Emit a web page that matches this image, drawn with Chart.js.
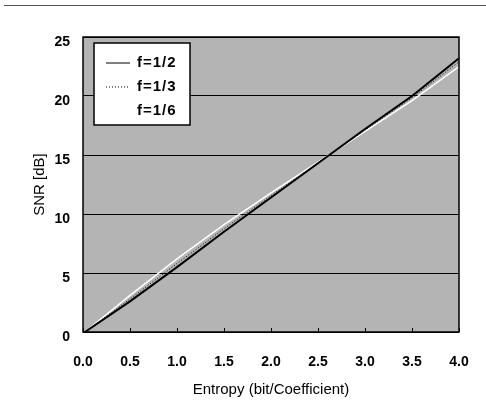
<!DOCTYPE html>
<html lang="en">
<head>
    <meta charset="UTF-8">
    <title>SNR vs Entropy</title>
    <script src="https://cdn.jsdelivr.net/npm/chart.js"></script>
    <style>
        body { margin: 0; background: #fff; }
        #wrap { position: relative; width: 486px; height: 403px; }
        #topline { position: absolute; left: 4px; right: 0; top: 5px; border-top: 1px solid #555; }
    </style>
</head>
<body>
    <div id="wrap">
        <div id="topline"></div>
        <canvas id="snrChart" width="486" height="403"></canvas>
    </div>
    <script>
        // entropy values (bit/coefficient) and SNR in dB for each filter
        const entropy = [0.02, 0.5, 1.0, 1.5, 2.0, 2.5, 3.0, 3.5, 4.0];
        const snrHalf = [0, 2.6, 5.5, 8.5, 11.4, 14.3, 17.2, 20.0, 23.2];
        const snrThird = [0, 2.8, 5.8, 8.75, 11.55, 14.35, 17.1, 19.85, 22.9];
        const snrSixth = [0, 3.1, 6.2, 9.1, 11.8, 14.4, 17.0, 19.6, 22.5];
        const seriesLabels = ['f=1/2', 'f=1/3', 'f=1/6'];
        const xTicks = [0, 0.5, 1, 1.5, 2, 2.5, 3, 3.5, 4];
        const yTicks = [0, 5, 10, 15, 20, 25];

        function pts(ys) {
            return entropy.map((x, i) => ({ x: x, y: ys[i] }));
        }

        const plotFrame = {
            id: 'plotFrame',
            beforeDraw(chart) {
                // gray plot background
                const { ctx, chartArea: a } = chart;
                ctx.save();
                ctx.fillStyle = '#b4b4b4';
                ctx.fillRect(a.left, a.top, a.right - a.left, a.bottom - a.top);
                ctx.restore();
            },
            afterDatasetsDraw(chart) {
                const { ctx, chartArea: a } = chart;
                const xs = chart.scales.x;
                ctx.save();
                ctx.strokeStyle = '#000';
                ctx.lineWidth = 1.5;
                ctx.strokeRect(a.left, a.top, a.right - a.left, a.bottom - a.top);
                ctx.lineWidth = 1;
                xTicks.forEach(v => {
                    const px = Math.round(xs.getPixelForValue(v)) + 0.5;
                    ctx.beginPath();
                    ctx.moveTo(px, a.bottom);
                    ctx.lineTo(px, a.bottom - 4);
                    ctx.stroke();
                });
                ctx.restore();
            },
            afterDraw(chart) {
                // legend box inside the plot, top left
                const { ctx } = chart;
                const bx = 94, by = 43, bw = 96, bh = 82;
                ctx.save();
                ctx.fillStyle = '#fff';
                ctx.fillRect(bx, by, bw, bh);
                ctx.strokeStyle = '#000';
                ctx.lineWidth = 1.5;
                ctx.strokeRect(bx, by, bw, bh);
                ctx.font = 'bold 15px "Liberation Sans", Arial, sans-serif';
                ctx.letterSpacing = '1px';
                ctx.textBaseline = 'middle';
                chart.data.datasets.forEach((ds, i) => {
                    const y = 63 + i * 24;
                    ctx.strokeStyle = ds.borderColor;
                    ctx.lineWidth = 1;
                    ctx.setLineDash(ds.borderDash || []);
                    ctx.beginPath();
                    ctx.moveTo(106, y);
                    ctx.lineTo(130, y);
                    ctx.stroke();
                    ctx.setLineDash([]);
                    ctx.fillStyle = '#000';
                    ctx.fillText(ds.label, 137, y);
                });
                ctx.restore();
            }
        };

        new Chart(document.getElementById('snrChart'), {
            type: 'line',
            data: {
                datasets: [
                    { label: seriesLabels[0], data: pts(snrHalf), borderColor: '#000', borderWidth: 2 },
                    { label: seriesLabels[1], data: pts(snrThird), borderColor: '#000', borderWidth: 1, borderDash: [1, 2] },
                    { label: seriesLabels[2], data: pts(snrSixth), borderColor: '#fff', borderWidth: 1.5 }
                ]
            },
            options: {
                responsive: false,
                animation: false,
                layout: { padding: { left: 0, top: 37, right: 27, bottom: 0 } },
                elements: { point: { radius: 0 }, line: { tension: 0 } },
                plugins: { legend: { display: false }, tooltip: { enabled: false } },
                scales: {
                    x: {
                        type: 'linear',
                        min: 0, max: 4,
                        afterBuildTicks: s => { s.ticks = xTicks.map(v => ({ value: v })); },
                        afterFit: s => { s.height = 71; },
                        grid: { display: false },
                        border: { display: false },
                        ticks: {
                            color: '#000',
                            padding: 14,
                            maxRotation: 0,
                            font: { family: '"Liberation Sans", Arial, sans-serif', size: 14, weight: 'bold' },
                            callback: v => v.toFixed(1)
                        },
                        title: {
                            display: true,
                            text: 'Entropy (bit/Coefficient)',
                            color: '#000',
                            padding: { top: 12 },
                            font: { family: '"Liberation Sans", Arial, sans-serif', size: 15 }
                        }
                    },
                    y: {
                        min: 0, max: 25,
                        afterBuildTicks: s => { s.ticks = yTicks.map(v => ({ value: v })); },
                        afterFit: s => { s.width = 83; },
                        grid: { color: '#000', lineWidth: 1, drawTicks: false },
                        border: { display: false },
                        ticks: {
                            color: '#000',
                            padding: 13,
                            labelOffset: 5,
                            font: { family: '"Liberation Sans", Arial, sans-serif', size: 14, weight: 'bold' }
                        },
                        title: {
                            display: true,
                            text: 'SNR [dB]',
                            color: '#000',
                            padding: { top: 31, bottom: 0 },
                            font: { family: '"Liberation Sans", Arial, sans-serif', size: 15 }
                        }
                    }
                }
            },
            plugins: [plotFrame]
        });
    </script>
</body>
</html>
